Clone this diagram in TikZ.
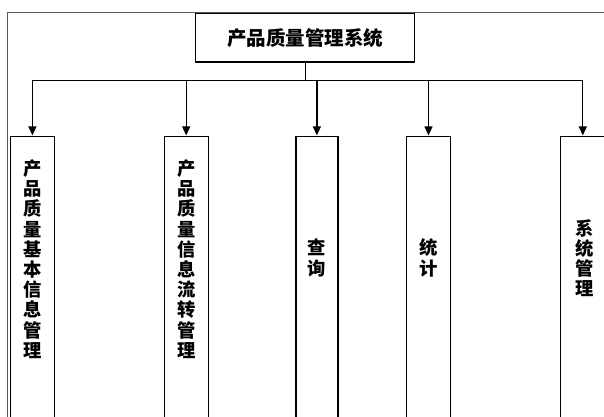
\documentclass[tikz,border=0pt]{standalone}
\usepackage{fontspec}
\newfontfamily\cjk{Noto Sans CJK SC}
\usetikzlibrary{arrows.meta}
\tikzset{
  frameline/.style={draw=black!65, line width=1.3pt},
  topbox/.style={draw, line width=1.2pt, minimum width=219pt, minimum height=48.5pt, inner sep=0pt,
    font=\cjk\bfseries\fontsize{19.5}{20}\selectfont},
  colbox/.style={draw, line width=1.2pt, minimum width=44pt, minimum height=300pt, inner sep=0pt, anchor=north},
  vtext/.style={align=center, inner sep=0pt, font=\cjk\bfseries\fontsize{18.3}{20.2}\selectfont},
  conn/.style={line width=1.2pt},
  arr/.style={line width=1.2pt, -{Triangle[width=8pt,length=9pt]}, shorten >=0.6pt},
}
\begin{document}
\begin{tikzpicture}[x=1pt,y=-1pt]
\useasboundingbox (0,0) rectangle (604,416);
\fill[white] (0,0) rectangle (604,416);
% outer frame (cropped)
\draw[frameline] (7.6,420) -- (7.6,12.3) -- (610,12.3);
% top node
\node[topbox, fill=white] (top) at (305.3,37.7) {产品质量管理系统};
% column boxes
\node[colbox] (b1) at (32.4,136) {};
\node[colbox] (b2) at (186.2,136) {};
\node[colbox, minimum width=42pt] (b3) at (316.9,136) {};
\node[colbox] (b4) at (428.5,136) {};
\node[colbox] (b5) at (582.8,136) {};
% texts
\node[vtext] (t1) at (32.4,259) {产\\品\\质\\量\\基\\本\\信\\息\\管\\理};
\node[vtext] (t2) at (186.2,259) {产\\品\\质\\量\\信\\息\\流\\转\\管\\理};
\node[vtext] (t3) at (316.9,258) {查\\询};
\node[vtext] (t4) at (428.5,258) {统\\计};
\node[vtext] (t5) at (584.5,258) {系\\统\\管\\理};
% connectors
\coordinate (busy) at (0,80.5);
\draw[conn] (top.south) -- (top.south |- busy);
\draw[conn] (busy -| b1.north) -- (busy -| b5.north);
\foreach \b in {b1,b2,b3,b4,b5} {
  \draw[arr] (busy -| \b.north) -- (\b.north);
}
\end{tikzpicture}
\end{document}
